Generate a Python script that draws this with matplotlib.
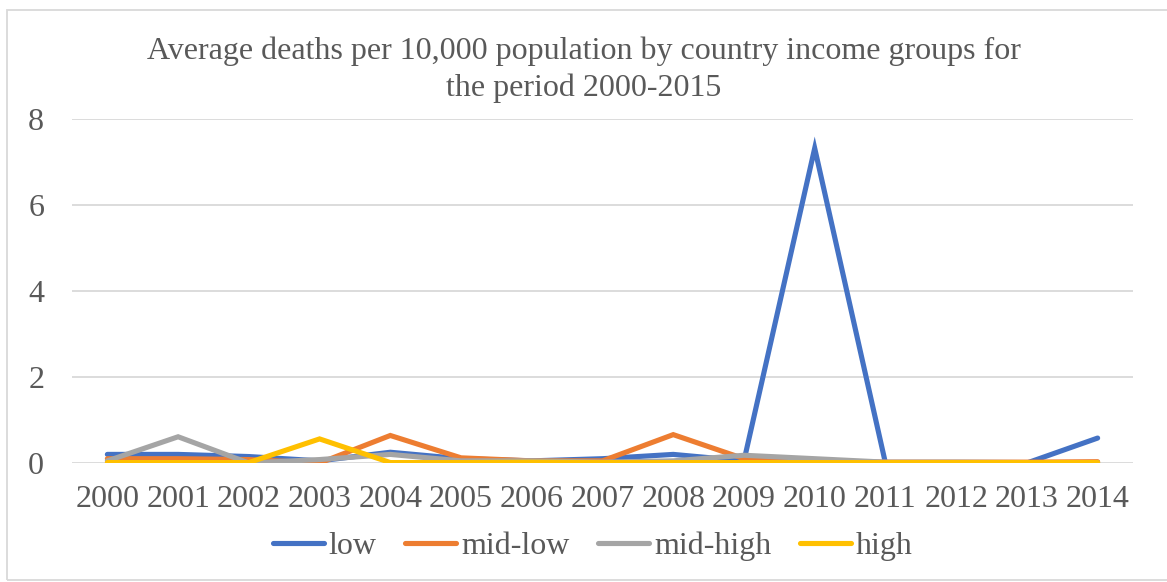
import matplotlib.pyplot as plt
from matplotlib.patches import Rectangle

plt.rcParams['font.family'] = ['Liberation Serif', 'DejaVu Serif']

years = [str(y) for y in range(2000, 2015)]
low = [0.20, 0.20, 0.15, 0.05, 0.25, 0.10, 0.05, 0.10, 0.20, 0.05, 7.32, 0.00, 0.01, 0.00, 0.58]
mid_low = [0.10, 0.10, 0.08, 0.00, 0.64, 0.12, 0.05, 0.05, 0.66, 0.10, 0.05, 0.02, 0.02, 0.02, 0.03]
mid_high = [0.05, 0.61, 0.00, 0.08, 0.20, 0.05, 0.05, 0.02, 0.05, 0.18, 0.10, 0.02, 0.02, 0.01, 0.01]
high = [0.01, 0.01, 0.01, 0.56, 0.01, 0.01, 0.02, 0.01, 0.01, 0.01, 0.01, 0.01, 0.01, 0.01, 0.01]

series = [("low", low, "#4472C4"),
          ("mid-low", mid_low, "#ED7D31"),
          ("mid-high", mid_high, "#A5A5A5"),
          ("high", high, "#FFC000")]

text_color = "#595959"
grid_color = "#D9D9D9"

fig = plt.figure(figsize=(11.67, 5.82), dpi=100)
# chart frame
fig.patches.append(Rectangle((7 / 1167, 0.003), 1.0, 1 - 10 / 582 - 0.003,
                             transform=fig.transFigure, fill=False,
                             edgecolor=grid_color, linewidth=1.3))

ax = fig.add_axes([72 / 1167, 1 - 463 / 582, (1133 - 72) / 1167, (463 - 119) / 582])
x = list(range(len(years)))
for name, vals, color in series:
    ax.plot(x, vals, color=color, lw=3.7, solid_capstyle="round",
            solid_joinstyle="miter", label=name)

ax.set_xlim(-0.5, len(years) - 0.5)
ax.set_ylim(0, 8)
ax.set_yticks([0, 2, 4, 6, 8])
ax.set_xticks(x)
ax.set_xticklabels(years)
ax.grid(axis="y", color=grid_color, lw=1.3)
ax.set_axisbelow(True)
for s in ax.spines.values():
    s.set_visible(False)
ax.tick_params(axis="both", length=0, labelsize=23, labelcolor=text_color)
ax.tick_params(axis="y", pad=20)
ax.tick_params(axis="x", pad=16)

fig.text(0.5, 1 - 70 / 582, "Average deaths per 10,000 population by country income groups for\nthe period 2000-2015",
         ha="center", va="center", fontsize=23, color=text_color, linespacing=1.32)

fig.legend(loc="center", bbox_to_anchor=(0.508, 1 - 546 / 582), ncol=4, frameon=False,
           fontsize=23, labelcolor=text_color, handlelength=1.6, handletextpad=0.15,
           columnspacing=0.9)

fig.savefig("out.png", dpi=100)
